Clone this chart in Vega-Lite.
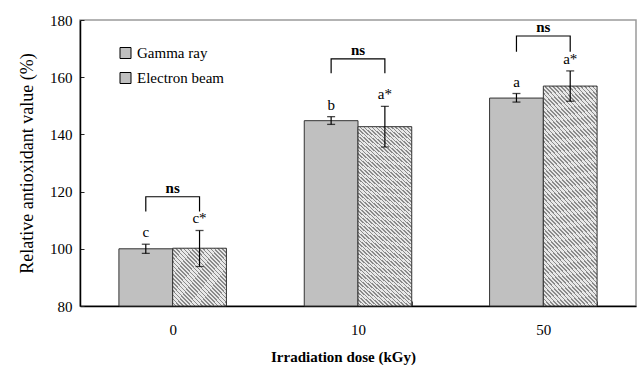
{
  "$schema": "https://vega.github.io/schema/vega-lite/v6.json",
  "width": 556,
  "height": 286,
  "autosize": {"type": "none"},
  "padding": {"left": 80, "top": 20, "right": 6, "bottom": 59},
  "config": {
    "view": {"stroke": "#9a9a9a", "strokeWidth": 1.5},
    "font": "Liberation Serif",
    "text": {"font": "Liberation Serif"},
    "axis": {"labelFont": "Liberation Serif", "titleFont": "Liberation Serif", "labelColor": "#000000", "titleColor": "#000000", "grid": false},
    "legend": {"labelFont": "Liberation Serif", "titleFont": "Liberation Serif"}
  },
  "datasets": {
    "main": [
      {"dose": "0", "series": "Gamma ray", "value": 100.0, "lo": 98.4, "hi": 101.6, "letter": "c"},
      {"dose": "0", "series": "Electron beam", "value": 100.2, "lo": 93.8, "hi": 106.4, "letter": "c*"},
      {"dose": "10", "series": "Gamma ray", "value": 144.8, "lo": 143.5, "hi": 146.2, "letter": "b"},
      {"dose": "10", "series": "Electron beam", "value": 142.7, "lo": 135.6, "hi": 149.8, "letter": "a*"},
      {"dose": "50", "series": "Gamma ray", "value": 152.7, "lo": 151.3, "hi": 154.3, "letter": "a"},
      {"dose": "50", "series": "Electron beam", "value": 156.9, "lo": 151.6, "hi": 162.2, "letter": "a*"}
    ],
    "brackets": [
      {"dose": "0", "side": "Gamma ray", "y": 113.0, "ord": 1},
      {"dose": "0", "side": "Gamma ray", "y": 118.2, "ord": 2},
      {"dose": "0", "side": "Electron beam", "y": 118.2, "ord": 3},
      {"dose": "0", "side": "Electron beam", "y": 113.0, "ord": 4},
      {"dose": "10", "side": "Gamma ray", "y": 161.4, "ord": 1},
      {"dose": "10", "side": "Gamma ray", "y": 166.4, "ord": 2},
      {"dose": "10", "side": "Electron beam", "y": 166.4, "ord": 3},
      {"dose": "10", "side": "Electron beam", "y": 161.4, "ord": 4},
      {"dose": "50", "side": "Gamma ray", "y": 168.9, "ord": 1},
      {"dose": "50", "side": "Gamma ray", "y": 174.4, "ord": 2},
      {"dose": "50", "side": "Electron beam", "y": 174.4, "ord": 3},
      {"dose": "50", "side": "Electron beam", "y": 168.9, "ord": 4}
    ]
  },
  "layer": [
    {
      "data": {"name": "main"},
      "transform": [{"filter": "datum.series === 'Gamma ray'"}],
      "mark": {"type": "bar", "stroke": "#333333", "strokeWidth": 1},
      "encoding": {
        "x": {
          "field": "dose", "type": "nominal", "sort": ["0", "10", "50"],
          "scale": {"paddingInner": 0.42, "paddingOuter": 0.21},
          "axis": {
            "title": "Irradiation dose (kGy)", "titleFont": "Liberation Serif", "titleFontSize": 15, "titleFontWeight": "bold",
            "titleX": 263, "titleY": 50, "titleBaseline": "middle", "titleAlign": "center",
            "labelFont": "Liberation Serif", "labelAngle": 0, "labelFontSize": 15, "labelPadding": 21,
            "tickBand": "extent", "tickSize": -5, "tickColor": "#444444", "tickWidth": 1,
            "domainColor": "#000000", "domainWidth": 1.5
          }
        },
        "xOffset": {"field": "series", "type": "nominal", "scale": {"domain": ["Gamma ray", "Electron beam"], "paddingInner": 0, "paddingOuter": 0}},
        "y": {
          "field": "value", "type": "quantitative",
          "scale": {"domain": [80, 180], "zero": false, "nice": false},
          "axis": {
            "title": "Relative antioxidant value (%)", "titleFont": "Liberation Serif", "titleFontSize": 18, "titleFontWeight": "normal",
            "titleX": -53, "titleY": 143, "titleAngle": -90, "titleBaseline": "middle", "titleAlign": "center",
            "values": [80, 100, 120, 140, 160, 180], "labelFont": "Liberation Serif", "labelFontSize": 15, "labelPadding": 12,
            "tickSize": -4, "tickColor": "#222222", "tickWidth": 1,
            "domainColor": "#000000", "domainWidth": 1.5
          }
        },
        "y2": {"datum": 80},
        "color": {
          "field": "series", "type": "nominal",
          "scale": {"domain": ["Gamma ray", "Electron beam"], "range": ["#c0c0c0", "#c0c0c0"]},
          "legend": {
            "title": null, "orient": "none", "legendX": 38, "legendY": 25.5,
            "symbolType": "square", "symbolSize": 121, "symbolStrokeColor": "#000000", "symbolStrokeWidth": 1,
            "labelFont": "Liberation Serif", "labelFontSize": 15, "labelOffset": 4, "rowPadding": 9, "labelColor": "#000000", "padding": 0,
            "encode": {
              "symbols": {
                "update": {
                  "fill": [
                    {"test": "datum.value === 'Electron beam'", "value": {
                      "gradient": "linear", "x1": 0, "y1": 1, "x2": 1, "y2": 0,
                      "stops": [
                        {"offset": 0, "color": "#e8e8e8"}, {"offset": 0.1, "color": "#e8e8e8"}, {"offset": 0.1, "color": "#8a8a8a"}, {"offset": 0.1667, "color": "#8a8a8a"},
                        {"offset": 0.1667, "color": "#e8e8e8"}, {"offset": 0.2667, "color": "#e8e8e8"}, {"offset": 0.2667, "color": "#8a8a8a"}, {"offset": 0.3333, "color": "#8a8a8a"},
                        {"offset": 0.3333, "color": "#e8e8e8"}, {"offset": 0.4333, "color": "#e8e8e8"}, {"offset": 0.4333, "color": "#8a8a8a"}, {"offset": 0.5, "color": "#8a8a8a"},
                        {"offset": 0.5, "color": "#e8e8e8"}, {"offset": 0.6, "color": "#e8e8e8"}, {"offset": 0.6, "color": "#8a8a8a"}, {"offset": 0.6667, "color": "#8a8a8a"},
                        {"offset": 0.6667, "color": "#e8e8e8"}, {"offset": 0.7667, "color": "#e8e8e8"}, {"offset": 0.7667, "color": "#8a8a8a"}, {"offset": 0.8333, "color": "#8a8a8a"},
                        {"offset": 0.8333, "color": "#e8e8e8"}, {"offset": 0.9333, "color": "#e8e8e8"}, {"offset": 0.9333, "color": "#8a8a8a"}, {"offset": 1, "color": "#8a8a8a"}
                      ]
                    }},
                    {"value": "#c0c0c0"}
                  ],
                  "stroke": {"value": "#000000"}
                }
              }
            }
          }
        }
      }
    },
    {
      "data": {"name": "main"},
      "transform": [{"filter": "datum.series === 'Electron beam' && datum.dose === '0'"}],
      "mark": {
        "type": "bar", "stroke": "#333333", "strokeWidth": 1,
        "fill": {
          "gradient": "linear", "x1": 0, "y1": 1, "x2": 1, "y2": 0,
          "stops": [
            {"offset": 0, "color": "#e8e8e8"}, {"offset": 0.0214, "color": "#e8e8e8"}, {"offset": 0.0214, "color": "#8a8a8a"}, {"offset": 0.0357, "color": "#8a8a8a"},
            {"offset": 0.0357, "color": "#e8e8e8"}, {"offset": 0.0571, "color": "#e8e8e8"}, {"offset": 0.0571, "color": "#8a8a8a"}, {"offset": 0.0714, "color": "#8a8a8a"},
            {"offset": 0.0714, "color": "#e8e8e8"}, {"offset": 0.0929, "color": "#e8e8e8"}, {"offset": 0.0929, "color": "#8a8a8a"}, {"offset": 0.1071, "color": "#8a8a8a"},
            {"offset": 0.1071, "color": "#e8e8e8"}, {"offset": 0.1286, "color": "#e8e8e8"}, {"offset": 0.1286, "color": "#8a8a8a"}, {"offset": 0.1429, "color": "#8a8a8a"},
            {"offset": 0.1429, "color": "#e8e8e8"}, {"offset": 0.1643, "color": "#e8e8e8"}, {"offset": 0.1643, "color": "#8a8a8a"}, {"offset": 0.1786, "color": "#8a8a8a"},
            {"offset": 0.1786, "color": "#e8e8e8"}, {"offset": 0.2, "color": "#e8e8e8"}, {"offset": 0.2, "color": "#8a8a8a"}, {"offset": 0.2143, "color": "#8a8a8a"},
            {"offset": 0.2143, "color": "#e8e8e8"}, {"offset": 0.2357, "color": "#e8e8e8"}, {"offset": 0.2357, "color": "#8a8a8a"}, {"offset": 0.25, "color": "#8a8a8a"},
            {"offset": 0.25, "color": "#e8e8e8"}, {"offset": 0.2714, "color": "#e8e8e8"}, {"offset": 0.2714, "color": "#8a8a8a"}, {"offset": 0.2857, "color": "#8a8a8a"},
            {"offset": 0.2857, "color": "#e8e8e8"}, {"offset": 0.3071, "color": "#e8e8e8"}, {"offset": 0.3071, "color": "#8a8a8a"}, {"offset": 0.3214, "color": "#8a8a8a"},
            {"offset": 0.3214, "color": "#e8e8e8"}, {"offset": 0.3429, "color": "#e8e8e8"}, {"offset": 0.3429, "color": "#8a8a8a"}, {"offset": 0.3571, "color": "#8a8a8a"},
            {"offset": 0.3571, "color": "#e8e8e8"}, {"offset": 0.3786, "color": "#e8e8e8"}, {"offset": 0.3786, "color": "#8a8a8a"}, {"offset": 0.3929, "color": "#8a8a8a"},
            {"offset": 0.3929, "color": "#e8e8e8"}, {"offset": 0.4143, "color": "#e8e8e8"}, {"offset": 0.4143, "color": "#8a8a8a"}, {"offset": 0.4286, "color": "#8a8a8a"},
            {"offset": 0.4286, "color": "#e8e8e8"}, {"offset": 0.45, "color": "#e8e8e8"}, {"offset": 0.45, "color": "#8a8a8a"}, {"offset": 0.4643, "color": "#8a8a8a"},
            {"offset": 0.4643, "color": "#e8e8e8"}, {"offset": 0.4857, "color": "#e8e8e8"}, {"offset": 0.4857, "color": "#8a8a8a"}, {"offset": 0.5, "color": "#8a8a8a"},
            {"offset": 0.5, "color": "#e8e8e8"}, {"offset": 0.5214, "color": "#e8e8e8"}, {"offset": 0.5214, "color": "#8a8a8a"}, {"offset": 0.5357, "color": "#8a8a8a"},
            {"offset": 0.5357, "color": "#e8e8e8"}, {"offset": 0.5571, "color": "#e8e8e8"}, {"offset": 0.5571, "color": "#8a8a8a"}, {"offset": 0.5714, "color": "#8a8a8a"},
            {"offset": 0.5714, "color": "#e8e8e8"}, {"offset": 0.5929, "color": "#e8e8e8"}, {"offset": 0.5929, "color": "#8a8a8a"}, {"offset": 0.6071, "color": "#8a8a8a"},
            {"offset": 0.6071, "color": "#e8e8e8"}, {"offset": 0.6286, "color": "#e8e8e8"}, {"offset": 0.6286, "color": "#8a8a8a"}, {"offset": 0.6429, "color": "#8a8a8a"},
            {"offset": 0.6429, "color": "#e8e8e8"}, {"offset": 0.6643, "color": "#e8e8e8"}, {"offset": 0.6643, "color": "#8a8a8a"}, {"offset": 0.6786, "color": "#8a8a8a"},
            {"offset": 0.6786, "color": "#e8e8e8"}, {"offset": 0.7, "color": "#e8e8e8"}, {"offset": 0.7, "color": "#8a8a8a"}, {"offset": 0.7143, "color": "#8a8a8a"},
            {"offset": 0.7143, "color": "#e8e8e8"}, {"offset": 0.7357, "color": "#e8e8e8"}, {"offset": 0.7357, "color": "#8a8a8a"}, {"offset": 0.75, "color": "#8a8a8a"},
            {"offset": 0.75, "color": "#e8e8e8"}, {"offset": 0.7714, "color": "#e8e8e8"}, {"offset": 0.7714, "color": "#8a8a8a"}, {"offset": 0.7857, "color": "#8a8a8a"},
            {"offset": 0.7857, "color": "#e8e8e8"}, {"offset": 0.8071, "color": "#e8e8e8"}, {"offset": 0.8071, "color": "#8a8a8a"}, {"offset": 0.8214, "color": "#8a8a8a"},
            {"offset": 0.8214, "color": "#e8e8e8"}, {"offset": 0.8429, "color": "#e8e8e8"}, {"offset": 0.8429, "color": "#8a8a8a"}, {"offset": 0.8571, "color": "#8a8a8a"},
            {"offset": 0.8571, "color": "#e8e8e8"}, {"offset": 0.8786, "color": "#e8e8e8"}, {"offset": 0.8786, "color": "#8a8a8a"}, {"offset": 0.8929, "color": "#8a8a8a"},
            {"offset": 0.8929, "color": "#e8e8e8"}, {"offset": 0.9143, "color": "#e8e8e8"}, {"offset": 0.9143, "color": "#8a8a8a"}, {"offset": 0.9286, "color": "#8a8a8a"},
            {"offset": 0.9286, "color": "#e8e8e8"}, {"offset": 0.95, "color": "#e8e8e8"}, {"offset": 0.95, "color": "#8a8a8a"}, {"offset": 0.9643, "color": "#8a8a8a"},
            {"offset": 0.9643, "color": "#e8e8e8"}, {"offset": 0.9857, "color": "#e8e8e8"}, {"offset": 0.9857, "color": "#8a8a8a"}, {"offset": 1, "color": "#8a8a8a"}
          ]
        }
      },
      "encoding": {
        "x": {"field": "dose", "type": "nominal", "sort": ["0", "10", "50"]},
        "xOffset": {"field": "series", "type": "nominal"},
        "y": {"field": "value", "type": "quantitative"},
        "y2": {"datum": 80}
      }
    },
    {
      "data": {"name": "main"},
      "transform": [{"filter": "datum.series === 'Electron beam' && datum.dose !== '0'"}],
      "mark": {
        "type": "bar", "stroke": "#333333", "strokeWidth": 1,
        "fill": {
          "gradient": "linear", "x1": 0, "y1": 1, "x2": 0.3196, "y2": -0.1837,
          "stops": [
            {"offset": 0, "color": "#e8e8e8"}, {"offset": 0.0094, "color": "#e8e8e8"}, {"offset": 0.0094, "color": "#8a8a8a"}, {"offset": 0.0156, "color": "#8a8a8a"},
            {"offset": 0.0156, "color": "#e8e8e8"}, {"offset": 0.025, "color": "#e8e8e8"}, {"offset": 0.025, "color": "#8a8a8a"}, {"offset": 0.0313, "color": "#8a8a8a"},
            {"offset": 0.0313, "color": "#e8e8e8"}, {"offset": 0.0406, "color": "#e8e8e8"}, {"offset": 0.0406, "color": "#8a8a8a"}, {"offset": 0.0469, "color": "#8a8a8a"},
            {"offset": 0.0469, "color": "#e8e8e8"}, {"offset": 0.0563, "color": "#e8e8e8"}, {"offset": 0.0563, "color": "#8a8a8a"}, {"offset": 0.0625, "color": "#8a8a8a"},
            {"offset": 0.0625, "color": "#e8e8e8"}, {"offset": 0.0719, "color": "#e8e8e8"}, {"offset": 0.0719, "color": "#8a8a8a"}, {"offset": 0.0781, "color": "#8a8a8a"},
            {"offset": 0.0781, "color": "#e8e8e8"}, {"offset": 0.0875, "color": "#e8e8e8"}, {"offset": 0.0875, "color": "#8a8a8a"}, {"offset": 0.0938, "color": "#8a8a8a"},
            {"offset": 0.0938, "color": "#e8e8e8"}, {"offset": 0.1031, "color": "#e8e8e8"}, {"offset": 0.1031, "color": "#8a8a8a"}, {"offset": 0.1094, "color": "#8a8a8a"},
            {"offset": 0.1094, "color": "#e8e8e8"}, {"offset": 0.1188, "color": "#e8e8e8"}, {"offset": 0.1188, "color": "#8a8a8a"}, {"offset": 0.125, "color": "#8a8a8a"},
            {"offset": 0.125, "color": "#e8e8e8"}, {"offset": 0.1344, "color": "#e8e8e8"}, {"offset": 0.1344, "color": "#8a8a8a"}, {"offset": 0.1406, "color": "#8a8a8a"},
            {"offset": 0.1406, "color": "#e8e8e8"}, {"offset": 0.15, "color": "#e8e8e8"}, {"offset": 0.15, "color": "#8a8a8a"}, {"offset": 0.1563, "color": "#8a8a8a"},
            {"offset": 0.1563, "color": "#e8e8e8"}, {"offset": 0.1656, "color": "#e8e8e8"}, {"offset": 0.1656, "color": "#8a8a8a"}, {"offset": 0.1719, "color": "#8a8a8a"},
            {"offset": 0.1719, "color": "#e8e8e8"}, {"offset": 0.1813, "color": "#e8e8e8"}, {"offset": 0.1813, "color": "#8a8a8a"}, {"offset": 0.1875, "color": "#8a8a8a"},
            {"offset": 0.1875, "color": "#e8e8e8"}, {"offset": 0.1969, "color": "#e8e8e8"}, {"offset": 0.1969, "color": "#8a8a8a"}, {"offset": 0.2031, "color": "#8a8a8a"},
            {"offset": 0.2031, "color": "#e8e8e8"}, {"offset": 0.2125, "color": "#e8e8e8"}, {"offset": 0.2125, "color": "#8a8a8a"}, {"offset": 0.2188, "color": "#8a8a8a"},
            {"offset": 0.2188, "color": "#e8e8e8"}, {"offset": 0.2281, "color": "#e8e8e8"}, {"offset": 0.2281, "color": "#8a8a8a"}, {"offset": 0.2344, "color": "#8a8a8a"},
            {"offset": 0.2344, "color": "#e8e8e8"}, {"offset": 0.2438, "color": "#e8e8e8"}, {"offset": 0.2438, "color": "#8a8a8a"}, {"offset": 0.25, "color": "#8a8a8a"},
            {"offset": 0.25, "color": "#e8e8e8"}, {"offset": 0.2594, "color": "#e8e8e8"}, {"offset": 0.2594, "color": "#8a8a8a"}, {"offset": 0.2656, "color": "#8a8a8a"},
            {"offset": 0.2656, "color": "#e8e8e8"}, {"offset": 0.275, "color": "#e8e8e8"}, {"offset": 0.275, "color": "#8a8a8a"}, {"offset": 0.2813, "color": "#8a8a8a"},
            {"offset": 0.2813, "color": "#e8e8e8"}, {"offset": 0.2906, "color": "#e8e8e8"}, {"offset": 0.2906, "color": "#8a8a8a"}, {"offset": 0.2969, "color": "#8a8a8a"},
            {"offset": 0.2969, "color": "#e8e8e8"}, {"offset": 0.3063, "color": "#e8e8e8"}, {"offset": 0.3063, "color": "#8a8a8a"}, {"offset": 0.3125, "color": "#8a8a8a"},
            {"offset": 0.3125, "color": "#e8e8e8"}, {"offset": 0.3219, "color": "#e8e8e8"}, {"offset": 0.3219, "color": "#8a8a8a"}, {"offset": 0.3281, "color": "#8a8a8a"},
            {"offset": 0.3281, "color": "#e8e8e8"}, {"offset": 0.3375, "color": "#e8e8e8"}, {"offset": 0.3375, "color": "#8a8a8a"}, {"offset": 0.3438, "color": "#8a8a8a"},
            {"offset": 0.3438, "color": "#e8e8e8"}, {"offset": 0.3531, "color": "#e8e8e8"}, {"offset": 0.3531, "color": "#8a8a8a"}, {"offset": 0.3594, "color": "#8a8a8a"},
            {"offset": 0.3594, "color": "#e8e8e8"}, {"offset": 0.3688, "color": "#e8e8e8"}, {"offset": 0.3688, "color": "#8a8a8a"}, {"offset": 0.375, "color": "#8a8a8a"},
            {"offset": 0.375, "color": "#e8e8e8"}, {"offset": 0.3844, "color": "#e8e8e8"}, {"offset": 0.3844, "color": "#8a8a8a"}, {"offset": 0.3906, "color": "#8a8a8a"},
            {"offset": 0.3906, "color": "#e8e8e8"}, {"offset": 0.4, "color": "#e8e8e8"}, {"offset": 0.4, "color": "#8a8a8a"}, {"offset": 0.4063, "color": "#8a8a8a"},
            {"offset": 0.4063, "color": "#e8e8e8"}, {"offset": 0.4156, "color": "#e8e8e8"}, {"offset": 0.4156, "color": "#8a8a8a"}, {"offset": 0.4219, "color": "#8a8a8a"},
            {"offset": 0.4219, "color": "#e8e8e8"}, {"offset": 0.4313, "color": "#e8e8e8"}, {"offset": 0.4313, "color": "#8a8a8a"}, {"offset": 0.4375, "color": "#8a8a8a"},
            {"offset": 0.4375, "color": "#e8e8e8"}, {"offset": 0.4469, "color": "#e8e8e8"}, {"offset": 0.4469, "color": "#8a8a8a"}, {"offset": 0.4531, "color": "#8a8a8a"},
            {"offset": 0.4531, "color": "#e8e8e8"}, {"offset": 0.4625, "color": "#e8e8e8"}, {"offset": 0.4625, "color": "#8a8a8a"}, {"offset": 0.4688, "color": "#8a8a8a"},
            {"offset": 0.4688, "color": "#e8e8e8"}, {"offset": 0.4781, "color": "#e8e8e8"}, {"offset": 0.4781, "color": "#8a8a8a"}, {"offset": 0.4844, "color": "#8a8a8a"},
            {"offset": 0.4844, "color": "#e8e8e8"}, {"offset": 0.4938, "color": "#e8e8e8"}, {"offset": 0.4938, "color": "#8a8a8a"}, {"offset": 0.5, "color": "#8a8a8a"},
            {"offset": 0.5, "color": "#e8e8e8"}, {"offset": 0.5094, "color": "#e8e8e8"}, {"offset": 0.5094, "color": "#8a8a8a"}, {"offset": 0.5156, "color": "#8a8a8a"},
            {"offset": 0.5156, "color": "#e8e8e8"}, {"offset": 0.525, "color": "#e8e8e8"}, {"offset": 0.525, "color": "#8a8a8a"}, {"offset": 0.5313, "color": "#8a8a8a"},
            {"offset": 0.5313, "color": "#e8e8e8"}, {"offset": 0.5406, "color": "#e8e8e8"}, {"offset": 0.5406, "color": "#8a8a8a"}, {"offset": 0.5469, "color": "#8a8a8a"},
            {"offset": 0.5469, "color": "#e8e8e8"}, {"offset": 0.5563, "color": "#e8e8e8"}, {"offset": 0.5563, "color": "#8a8a8a"}, {"offset": 0.5625, "color": "#8a8a8a"},
            {"offset": 0.5625, "color": "#e8e8e8"}, {"offset": 0.5719, "color": "#e8e8e8"}, {"offset": 0.5719, "color": "#8a8a8a"}, {"offset": 0.5781, "color": "#8a8a8a"},
            {"offset": 0.5781, "color": "#e8e8e8"}, {"offset": 0.5875, "color": "#e8e8e8"}, {"offset": 0.5875, "color": "#8a8a8a"}, {"offset": 0.5938, "color": "#8a8a8a"},
            {"offset": 0.5938, "color": "#e8e8e8"}, {"offset": 0.6031, "color": "#e8e8e8"}, {"offset": 0.6031, "color": "#8a8a8a"}, {"offset": 0.6094, "color": "#8a8a8a"},
            {"offset": 0.6094, "color": "#e8e8e8"}, {"offset": 0.6188, "color": "#e8e8e8"}, {"offset": 0.6188, "color": "#8a8a8a"}, {"offset": 0.625, "color": "#8a8a8a"},
            {"offset": 0.625, "color": "#e8e8e8"}, {"offset": 0.6344, "color": "#e8e8e8"}, {"offset": 0.6344, "color": "#8a8a8a"}, {"offset": 0.6406, "color": "#8a8a8a"},
            {"offset": 0.6406, "color": "#e8e8e8"}, {"offset": 0.65, "color": "#e8e8e8"}, {"offset": 0.65, "color": "#8a8a8a"}, {"offset": 0.6563, "color": "#8a8a8a"},
            {"offset": 0.6563, "color": "#e8e8e8"}, {"offset": 0.6656, "color": "#e8e8e8"}, {"offset": 0.6656, "color": "#8a8a8a"}, {"offset": 0.6719, "color": "#8a8a8a"},
            {"offset": 0.6719, "color": "#e8e8e8"}, {"offset": 0.6813, "color": "#e8e8e8"}, {"offset": 0.6813, "color": "#8a8a8a"}, {"offset": 0.6875, "color": "#8a8a8a"},
            {"offset": 0.6875, "color": "#e8e8e8"}, {"offset": 0.6969, "color": "#e8e8e8"}, {"offset": 0.6969, "color": "#8a8a8a"}, {"offset": 0.7031, "color": "#8a8a8a"},
            {"offset": 0.7031, "color": "#e8e8e8"}, {"offset": 0.7125, "color": "#e8e8e8"}, {"offset": 0.7125, "color": "#8a8a8a"}, {"offset": 0.7188, "color": "#8a8a8a"},
            {"offset": 0.7188, "color": "#e8e8e8"}, {"offset": 0.7281, "color": "#e8e8e8"}, {"offset": 0.7281, "color": "#8a8a8a"}, {"offset": 0.7344, "color": "#8a8a8a"},
            {"offset": 0.7344, "color": "#e8e8e8"}, {"offset": 0.7438, "color": "#e8e8e8"}, {"offset": 0.7438, "color": "#8a8a8a"}, {"offset": 0.75, "color": "#8a8a8a"},
            {"offset": 0.75, "color": "#e8e8e8"}, {"offset": 0.7594, "color": "#e8e8e8"}, {"offset": 0.7594, "color": "#8a8a8a"}, {"offset": 0.7656, "color": "#8a8a8a"},
            {"offset": 0.7656, "color": "#e8e8e8"}, {"offset": 0.775, "color": "#e8e8e8"}, {"offset": 0.775, "color": "#8a8a8a"}, {"offset": 0.7813, "color": "#8a8a8a"},
            {"offset": 0.7813, "color": "#e8e8e8"}, {"offset": 0.7906, "color": "#e8e8e8"}, {"offset": 0.7906, "color": "#8a8a8a"}, {"offset": 0.7969, "color": "#8a8a8a"},
            {"offset": 0.7969, "color": "#e8e8e8"}, {"offset": 0.8063, "color": "#e8e8e8"}, {"offset": 0.8063, "color": "#8a8a8a"}, {"offset": 0.8125, "color": "#8a8a8a"},
            {"offset": 0.8125, "color": "#e8e8e8"}, {"offset": 0.8219, "color": "#e8e8e8"}, {"offset": 0.8219, "color": "#8a8a8a"}, {"offset": 0.8281, "color": "#8a8a8a"},
            {"offset": 0.8281, "color": "#e8e8e8"}, {"offset": 0.8375, "color": "#e8e8e8"}, {"offset": 0.8375, "color": "#8a8a8a"}, {"offset": 0.8438, "color": "#8a8a8a"},
            {"offset": 0.8438, "color": "#e8e8e8"}, {"offset": 0.8531, "color": "#e8e8e8"}, {"offset": 0.8531, "color": "#8a8a8a"}, {"offset": 0.8594, "color": "#8a8a8a"},
            {"offset": 0.8594, "color": "#e8e8e8"}, {"offset": 0.8688, "color": "#e8e8e8"}, {"offset": 0.8688, "color": "#8a8a8a"}, {"offset": 0.875, "color": "#8a8a8a"},
            {"offset": 0.875, "color": "#e8e8e8"}, {"offset": 0.8844, "color": "#e8e8e8"}, {"offset": 0.8844, "color": "#8a8a8a"}, {"offset": 0.8906, "color": "#8a8a8a"},
            {"offset": 0.8906, "color": "#e8e8e8"}, {"offset": 0.9, "color": "#e8e8e8"}, {"offset": 0.9, "color": "#8a8a8a"}, {"offset": 0.9063, "color": "#8a8a8a"},
            {"offset": 0.9063, "color": "#e8e8e8"}, {"offset": 0.9156, "color": "#e8e8e8"}, {"offset": 0.9156, "color": "#8a8a8a"}, {"offset": 0.9219, "color": "#8a8a8a"},
            {"offset": 0.9219, "color": "#e8e8e8"}, {"offset": 0.9313, "color": "#e8e8e8"}, {"offset": 0.9313, "color": "#8a8a8a"}, {"offset": 0.9375, "color": "#8a8a8a"},
            {"offset": 0.9375, "color": "#e8e8e8"}, {"offset": 0.9469, "color": "#e8e8e8"}, {"offset": 0.9469, "color": "#8a8a8a"}, {"offset": 0.9531, "color": "#8a8a8a"},
            {"offset": 0.9531, "color": "#e8e8e8"}, {"offset": 0.9625, "color": "#e8e8e8"}, {"offset": 0.9625, "color": "#8a8a8a"}, {"offset": 0.9688, "color": "#8a8a8a"},
            {"offset": 0.9688, "color": "#e8e8e8"}, {"offset": 0.9781, "color": "#e8e8e8"}, {"offset": 0.9781, "color": "#8a8a8a"}, {"offset": 0.9844, "color": "#8a8a8a"},
            {"offset": 0.9844, "color": "#e8e8e8"}, {"offset": 0.9938, "color": "#e8e8e8"}, {"offset": 0.9938, "color": "#8a8a8a"}, {"offset": 1, "color": "#8a8a8a"}
          ]
        }
      },
      "encoding": {
        "x": {"field": "dose", "type": "nominal", "sort": ["0", "10", "50"]},
        "xOffset": {"field": "series", "type": "nominal"},
        "y": {"field": "value", "type": "quantitative"},
        "y2": {"datum": 80}
      }
    },
    {
      "data": {"name": "main"},
      "mark": {"type": "rule", "color": "#000000", "strokeWidth": 1.2},
      "encoding": {
        "x": {"field": "dose", "type": "nominal", "sort": ["0", "10", "50"]},
        "xOffset": {"field": "series", "type": "nominal"},
        "y": {"field": "lo", "type": "quantitative"},
        "y2": {"field": "hi"}
      }
    },
    {
      "data": {"name": "main"},
      "transform": [{"fold": ["lo", "hi"], "as": ["end", "v"]}],
      "mark": {"type": "tick", "color": "#000000", "size": 8, "thickness": 1.3, "orient": "horizontal"},
      "encoding": {
        "x": {"field": "dose", "type": "nominal", "sort": ["0", "10", "50"]},
        "xOffset": {"field": "series", "type": "nominal"},
        "y": {"field": "v", "type": "quantitative"}
      }
    },
    {
      "data": {"name": "main"},
      "mark": {"type": "text", "fontSize": 15, "baseline": "middle", "dy": -12, "color": "#000000", "font": "Liberation Serif"},
      "encoding": {
        "x": {"field": "dose", "type": "nominal", "sort": ["0", "10", "50"]},
        "xOffset": {"field": "series", "type": "nominal"},
        "y": {"field": "hi", "type": "quantitative"},
        "text": {"field": "letter"}
      }
    },
    {
      "data": {"name": "brackets"},
      "mark": {"type": "line", "color": "#000000", "strokeWidth": 1.2},
      "encoding": {
        "x": {"field": "dose", "type": "nominal", "sort": ["0", "10", "50"]},
        "xOffset": {"field": "side", "type": "nominal"},
        "y": {"field": "y", "type": "quantitative"},
        "detail": {"field": "dose"},
        "order": {"field": "ord"}
      }
    },
    {
      "data": {"name": "brackets"},
      "transform": [{"filter": "datum.ord === 2"}],
      "mark": {"type": "text", "text": "ns", "fontSize": 15, "fontWeight": "bold", "baseline": "middle", "dy": -9, "color": "#000000", "font": "Liberation Serif"},
      "encoding": {
        "x": {"field": "dose", "type": "nominal", "sort": ["0", "10", "50"]},
        "y": {"field": "y", "type": "quantitative"}
      }
    }
  ]
}
